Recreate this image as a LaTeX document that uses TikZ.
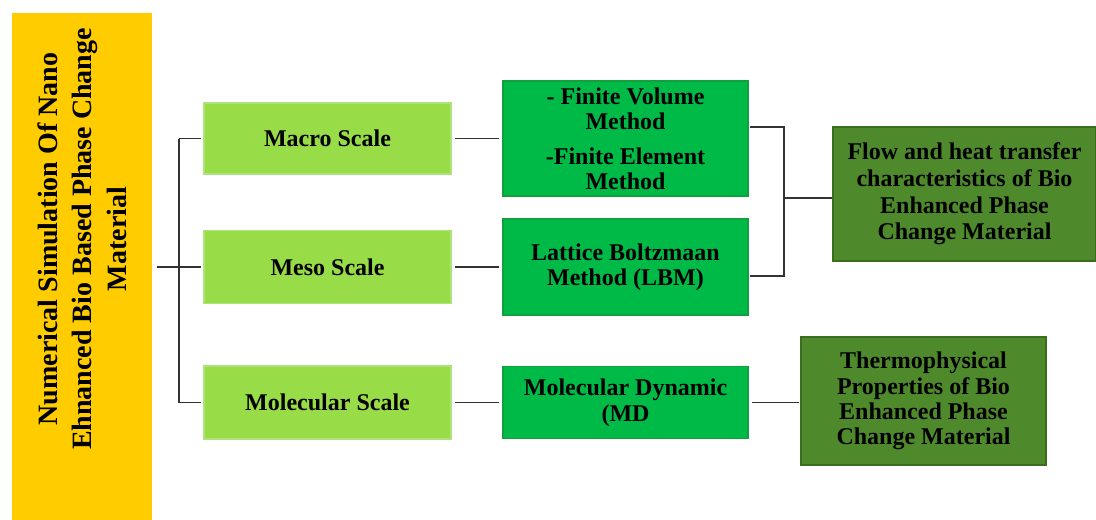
\documentclass[tikz,border=0pt]{standalone}
\usepackage{fontspec}
\setmainfont{Liberation Serif}
\definecolor{titley}{HTML}{FFCC00}
\definecolor{lgreen}{HTML}{98DC48}
\definecolor{lgreenb}{HTML}{AEE27A}
\definecolor{mgreen}{HTML}{00BA48}
\definecolor{mgreenb}{HTML}{10A03C}
\definecolor{dgreen}{HTML}{4E8A2C}
\definecolor{dgreenb}{HTML}{3A6E1E}
\begin{document}
\begin{tikzpicture}[x=0.75pt,y=-0.75pt,
  base/.style={rectangle, inner sep=0pt, align=center, font=\bfseries\fontsize{18}{19}\selectfont, text=black},
  scalebox/.style={base, fill=lgreen, draw=lgreenb, line width=0.8pt},
  methodbox/.style={base, fill=mgreen, draw=mgreenb, line width=0.8pt},
  resultbox/.style={base, fill=dgreen, draw=dgreenb, line width=0.8pt},
  conn/.style={draw=black!80, line width=1pt}]
\useasboundingbox (0,0) rectangle (1096,519);
% title
\fill[titley] (12,13) rectangle (152,525);
\node[base, rotate=90, font=\bfseries\fontsize{21}{26}\selectfont] (title) at (82,239) {Numerical Simulation Of Nano\\Ehnanced Bio Based Phase Change\\Material};
% scale boxes
\node[scalebox, minimum width=247*0.75pt, minimum height=71*0.75pt] (macro) at (327.5,138.5) {Macro Scale};
\node[scalebox, minimum width=247*0.75pt, minimum height=73*0.75pt] (meso) at (327.5,267) {Meso Scale};
\node[scalebox, minimum width=247*0.75pt, minimum height=73*0.75pt] (mol) at (327.5,402.5) {Molecular Scale};
% method boxes
\node[methodbox, minimum width=245*0.75pt, minimum height=115*0.75pt] (fvm) at (625.5,138.5) {- Finite Volume\\Method\\[7pt]-Finite Element\\Method};
\node[methodbox, minimum width=245*0.75pt, minimum height=96*0.75pt] (lbm) at (625.5,267) {Lattice Boltzmaan\\Method (LBM)};
\node[methodbox, minimum width=245*0.75pt, minimum height=72*0.75pt] (md) at (625.5,402.5) {\raisebox{4pt}{\shortstack{Molecular Dynamic\\(MD}}};
% result boxes
\node[resultbox, minimum width=263*0.75pt, minimum height=134*0.75pt, font=\bfseries\fontsize{18}{20}\selectfont] (flow) at (964.5,194) {Flow and heat transfer\\characteristics of Bio\\Enhanced Phase\\Change Material};
\node[resultbox, minimum width=245*0.75pt, minimum height=128*0.75pt] (thermo) at (923.5,401) {Thermophysical\\Properties of Bio\\Enhanced Phase\\Change Material};
% connectors
\coordinate (tr) at (157,267);
\coordinate (bx) at (179,267);
\coordinate (btop) at (179,138.5);
\coordinate (bbot) at (179,402.5);
\draw[conn] (tr) -- (bx);
\draw[conn] (btop) -- (bbot);
\draw[conn] (btop) -- ([xshift=-2*0.75pt]macro.west);
\draw[conn] (bx) -- ([xshift=-2*0.75pt]meso.west);
\draw[conn] (bbot) -- ([xshift=-2*0.75pt]mol.west);
\draw[conn] ([xshift=3*0.75pt]macro.east) -- ([xshift=-3*0.75pt]fvm.west);
\draw[conn] ([xshift=3*0.75pt]meso.east) -- ([xshift=-3*0.75pt]lbm.west);
\draw[conn] ([xshift=3*0.75pt]mol.east) -- ([xshift=-3*0.75pt]md.west);
\coordinate (fa) at (750,127);
\coordinate (la) at (750,276);
\coordinate (jt) at (784,127);
\coordinate (jb) at (784,276);
\coordinate (jm) at (784,198);
\draw[conn] (fa) -- (jt) -- (jb) -- (la);
\draw[conn] (jm) -- (flow.west |- jm);
\draw[conn] ([xshift=3*0.75pt]md.east) -- ([xshift=-1*0.75pt]thermo.west |- md.east);
\end{tikzpicture}
\end{document}
